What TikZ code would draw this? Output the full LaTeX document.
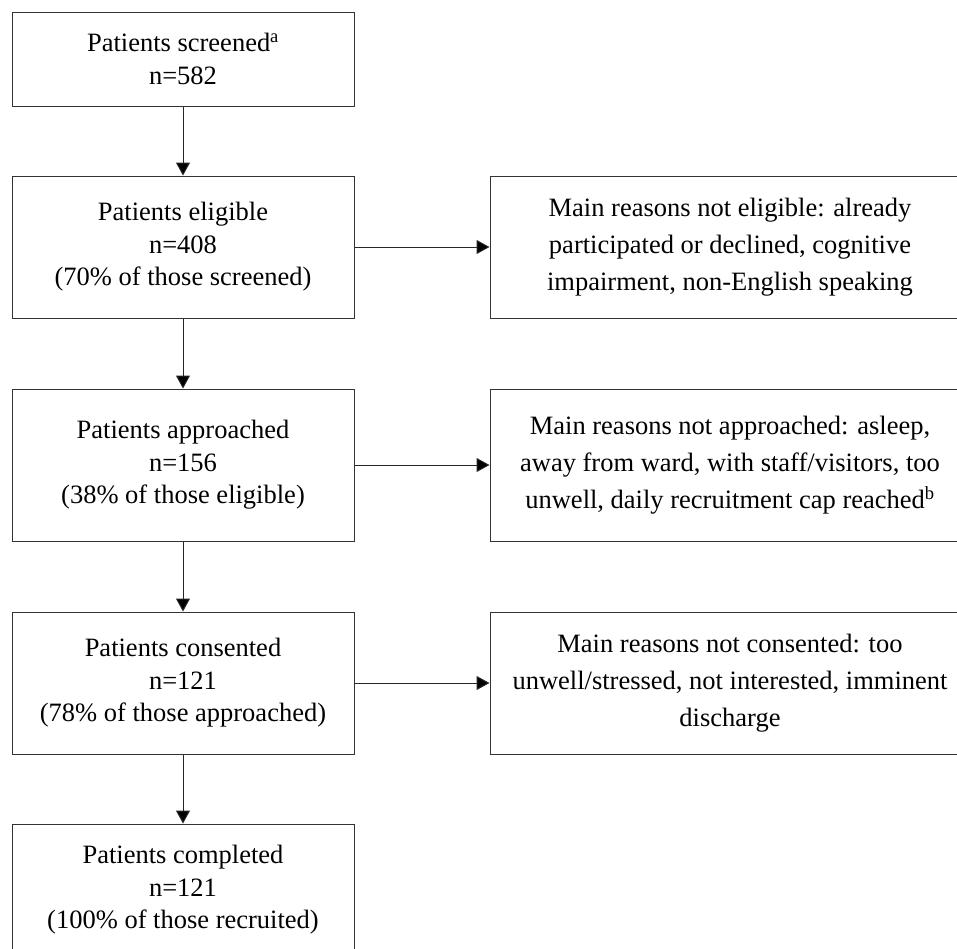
\documentclass[tikz,border=0pt]{standalone}
\usepackage{fontspec}
\setmainfont{Liberation Serif}
\usetikzlibrary{arrows.meta}

\tikzset{
  stage/.style={shape=rectangle,draw=black!80,line width=1pt,minimum width=342pt,inner sep=0pt,align=center,font=\fontsize{26.5}{32.5}\selectfont},
  reason/.style={shape=rectangle,draw=black!80,line width=1pt,minimum width=480pt,inner sep=0pt,align=center,font=\fontsize{26.5}{37}\selectfont},
  flow/.style={-{Triangle[length=13pt,width=14pt]},line width=1pt,draw=black!85}
}

\begin{document}
\begin{tikzpicture}[x=1pt,y=-1pt]
  \useasboundingbox (0,0) rectangle (957,948);
  \node[stage,minimum height=94pt] (screened) at (183,59) {Patients screened\textsuperscript{a}\\n=582};
  \node[stage,minimum height=142pt] (eligible) at (183,247) {Patients eligible\\n=408\\(70\% of those screened)};
  \node[stage,minimum height=152pt] (approached) at (183,465) {Patients approached\\n=156\\(38\% of those eligible)};
  \node[stage,minimum height=142pt] (consented) at (183,683) {Patients consented\\n=121\\(78\% of those approached)};
  \node[stage,minimum height=132pt] (completed) at (183,890) {Patients completed\\n=121\\(100\% of those recruited)};
  \node[reason,minimum height=142pt] (noteligible) at (730,247) {Main reasons not eligible: already\\participated or declined, cognitive\\impairment, non-English speaking};
  \node[reason,minimum height=152pt] (notapproached) at (730,465) {Main reasons not approached: asleep,\\away from ward, with staff/visitors, too\\unwell, daily recruitment cap reached\textsuperscript{b}};
  \node[reason,minimum height=142pt] (notconsented) at (730,683) {Main reasons not consented: too\\unwell/stressed, not interested, imminent\\discharge};
  \path [flow](screened) edge (eligible);
  \path [flow](eligible) edge (approached);
  \path [flow](approached) edge (consented);
  \path [flow](consented) edge (completed);
  \path [flow](eligible) edge (noteligible);
  \path [flow](approached) edge (notapproached);
  \path [flow](consented) edge (notconsented);
\end{tikzpicture}
\end{document}
